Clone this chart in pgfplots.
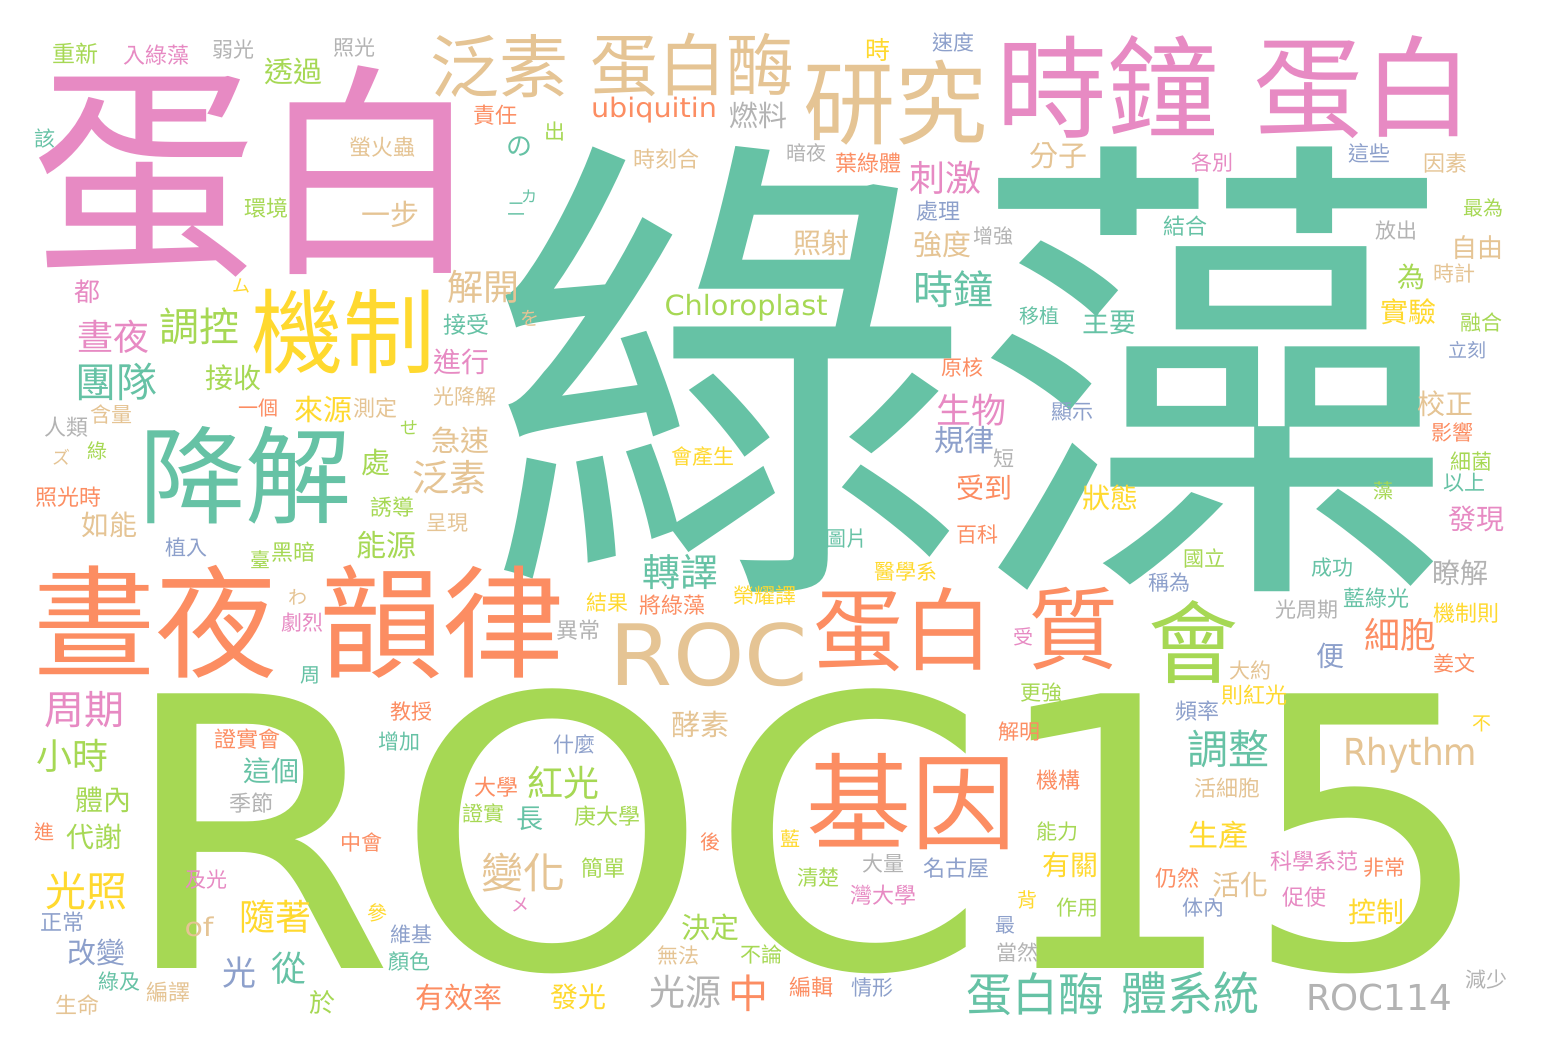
\documentclass[border=0pt]{standalone}
\usepackage{fontspec}
\usepackage{graphicx}
\usepackage{pgfplots}
\usepackage{pgfplotstable}
\pgfplotsset{compat=1.18}
\newfontfamily\cjk{Noto Sans CJK TC}
\newfontfamily\lat{DejaVu Sans}
\definecolor{cT}{HTML}{66C2A5}
\definecolor{cO}{HTML}{FC8D62}
\definecolor{cB}{HTML}{8DA0CB}
\definecolor{cP}{HTML}{E78AC3}
\definecolor{cG}{HTML}{A6D854}
\definecolor{cY}{HTML}{FFD92F}
\definecolor{cN}{HTML}{E5C494}
\definecolor{cR}{HTML}{B3B3B3}

% x, y in pixels (y from top), s = font size in pt, c = colour, w = word
\pgfplotstableread{
x y s c w
972 370 242 T 綠藻
258 172 113 P 蛋白
1107 87 55.5 P 時鐘
1363 87 55 P 蛋白
155 622 61 O 晝夜
442 622 61 O 韻律
245 475 53 T 降解
911 802 52.5 O 基因
903 630 45 O 蛋白
1073 629 45 O 質
1193 642 45 G 會
343 332 46 Y 機制
895 103 46 N 研究
499 66 34.5 N 泛素
692 65 34 N 蛋白酶
76 54 11.5 G 重新
156 55 11 P 入綠藻
233 50 10.5 R 弱光
354 48 10.5 R 照光
293 72 14.5 G 透過
495 115 11 O 責任
45 139 10.5 T 該
382 147 11 N 螢火蟲
390 214 14.5 N 一步
266 208 11 G 環境
87 292 13 P 都
241 286 9 Y ム
113 337 18 P 晝夜
199 326 20 G 調控
483 287 18 N 解開
466 325 11.5 T 接受
461 362 14 P 進行
519 147 13 T の
878 50 12.5 Y 時
953 42 10.5 B 速度
758 115 14.5 R 燃料
555 132 10.5 G 出
666 159 11 N 時刻合
806 153 10 R 暗夜
868 163 11 O 葉綠體
945 178 18 P 刺激
938 211 11 B 處理
821 243 14 N 照射
942 245 14.5 N 強度
993 236 10 R 增強
953 289 20 T 時鐘
530 318 9.5 N を
529 196 8 T カ
516 209 9 T 二
1058 156 14.5 N 分子
1212 162 10.5 P 各別
1369 153 10.5 B 這些
1445 163 11 N 因素
1483 208 10 G 最為
1185 226 11 T 結合
1396 231 10.5 R 放出
1477 248 13 N 自由
1411 277 14 G 為
1454 273 10.5 N 時計
1408 312 14 Y 實驗
1481 322 10.5 G 融合
1039 316 10 T 移植
1109 322 13.5 T 主要
1467 350 9.5 B 立刻
117 382 20.5 T 團隊
233 378 14 G 接收
258 408 10 O 一個
323 409 14.5 Y 來源
375 408 11 N 測定
465 397 10.5 N 光降解
111 414 10.5 N 含量
66 427 11 R 人類
409 428 9 G せ
460 440 14.5 N 急速
62 457 9 N ズ
97 451 10 G 綠
376 463 14.5 G 處
449 477 18.5 N 泛素
68 497 11 O 照光時
392 507 11 G 誘導
109 525 14 N 如能
447 523 10.5 N 呈現
186 547 10.5 B 植入
386 545 15 G 能源
293 552 11 G 黑暗
260 560 10 G 臺
298 597 9.5 N わ
302 623 10.5 P 劇烈
310 675 10 T 周
962 367 10.5 O 原核
971 410 17.5 P 生物
964 440 15 B 規律
1004 458 10.5 R 短
703 457 10.5 Y 會產生
984 488 14 O 受到
846 539 10.5 T 圖片
977 535 10.5 O 百科
680 572 19 T 轉譯
906 572 10.5 Y 醫學系
607 602 10.5 Y 結果
672 605 11 O 將綠藻
765 595 10.5 Y 榮耀譯
578 630 11 R 異常
1072 412 10.5 B 顯示
1445 404 14 N 校正
1452 432 10.5 O 影響
1471 462 10.5 G 細菌
1464 483 10.5 T 以上
1383 491 10 G 藻
1110 498 14 Y 狀態
1476 519 14 P 發現
1204 558 10.5 G 國立
1332 568 10.5 T 成功
1460 573 14 R 瞭解
1169 583 10.5 B 稱為
1307 610 10.5 R 光周期
1376 598 11 T 藍綠光
1466 613 11 Y 機制則
1400 635 18 O 細胞
1023 637 10 P 受
1330 656 14 B 便
1454 663 10.5 O 姜文
1250 670 10.5 N 大約
1041 693 10.5 G 更強
1254 695 11 Y 則紅光
84 710 20 P 周期
72 756 18 G 小時
104 800 14 G 體內
44 832 10 O 進
94 837 14 G 代謝
87 891 20.5 Y 光照
62 922 11 B 正常
97 953 14.5 B 改變
119 982 10.5 T 綠及
168 992 11 N 編譯
77 1005 11 N 生命
411 712 10.5 O 教授
247 739 11 O 證實會
399 742 10.5 T 增加
271 771 14 T 這個
251 803 11 R 季節
361 842 10.5 O 中會
206 880 10.5 P 及光
275 917 18 Y 隨著
377 913 10 Y 參
411 935 10.5 B 維基
409 962 10.5 T 顏色
239 973 17 B 光
289 968 17.5 T 從
322 1003 13 G 於
459 997 14.5 O 有效率
496 787 11 O 大學
483 813 10.5 G 證實
700 724 14.5 N 酵素
574 745 10.5 B 什麼
563 783 18 G 紅光
530 819 13.5 T 長
607 816 11 G 庚大學
710 842 10 O 後
523 873 21 N 變化
603 868 11 G 簡單
520 905 9 P メ
790 839 10 Y 藍
710 927 14.5 G 決定
678 955 10.5 N 無法
761 955 10.5 G 不論
685 992 18 R 光源
748 993 20 O 中
578 997 14 Y 發光
811 987 11 O 編輯
872 988 10.5 B 情形
883 864 10.5 R 大量
956 868 11 B 名古屋
818 878 10.5 G 清楚
883 895 11 P 灣大學
1005 925 10 B 最
1017 952 10.5 R 當然
1035 994 23 T 蛋白酶
1027 900 10 Y 背
1019 732 10.5 O 解明
1197 711 11 B 頻率
1228 749 20.5 T 調整
1058 780 11 O 機構
1227 788 11 N 活細胞
1057 832 10.5 G 能力
1218 835 15 Y 生產
1070 865 14 Y 有關
1177 878 11 O 仍然
1240 885 14 N 活化
1077 908 10.5 G 作用
1203 908 10.5 B 体內
1314 861 11 P 科學系范
1384 868 10.5 O 非常
1304 897 11 P 促使
1376 912 14 Y 控制
1190 993 23 T 體系統
1486 980 10.5 R 減少
1482 724 9.5 Y 不
}\cjkwords

% Latin words: x, y in pixels, W = width in pt, H = total height in pt
\pgfplotstableread{
x y W H c w
807 831 687.5 142.5 G ROC15
709 655 99 32 N ROC
654 110 63 13 O ubiquitin
746 308 81.5 13.5 G Chloroplast
1410 755 67 18 N Rhythm
1379 998 73 13.5 R ROC114
199 927 14.5 10 N of
}\latwords

\pgfplotstablegetrowsof{\cjkwords}
\pgfmathtruncatemacro\ncjk{\pgfplotsretval-1}
\pgfplotstablegetrowsof{\latwords}
\pgfmathtruncatemacro\nlat{\pgfplotsretval-1}

\begin{document}
\begin{tikzpicture}
\path[use as bounding box] (0,0) rectangle (774pt,526pt);
\fill[white] (0,0) rectangle (774pt,526pt);
\begin{axis}[at={(0,0)}, anchor=south west, scale only axis,
  width=774pt, height=526pt,
  xmin=0, xmax=1548, ymin=0, ymax=1052, y dir=reverse,
  axis lines=none, ticks=none, clip=false]
\pgfplotsforeachungrouped \i in {0,...,\nlat}{%
  \pgfplotstablegetelem{\i}{x}\of\latwords \let\wx\pgfplotsretval
  \pgfplotstablegetelem{\i}{y}\of\latwords \let\wy\pgfplotsretval
  \pgfplotstablegetelem{\i}{W}\of\latwords \let\wW\pgfplotsretval
  \pgfplotstablegetelem{\i}{H}\of\latwords \let\wH\pgfplotsretval
  \pgfplotstablegetelem{\i}{c}\of\latwords \let\wc\pgfplotsretval
  \pgfplotstablegetelem{\i}{w}\of\latwords \let\ww\pgfplotsretval
  \edef\temp{\noexpand\node[anchor=center, inner sep=0pt, text=c\wc]
    at (axis cs:\wx,\wy)
    {\noexpand\resizebox*{\wW pt}{\wH pt}{\noexpand\lat \ww}};}%
  \temp
}
\pgfplotsforeachungrouped \i in {0,...,\ncjk}{%
  \pgfplotstablegetelem{\i}{x}\of\cjkwords \let\wx\pgfplotsretval
  \pgfplotstablegetelem{\i}{y}\of\cjkwords \let\wy\pgfplotsretval
  \pgfplotstablegetelem{\i}{s}\of\cjkwords \let\ws\pgfplotsretval
  \pgfplotstablegetelem{\i}{c}\of\cjkwords \let\wc\pgfplotsretval
  \pgfplotstablegetelem{\i}{w}\of\cjkwords \let\ww\pgfplotsretval
  \edef\temp{\noexpand\node[anchor=center, inner sep=0pt, text=c\wc,
    font=\noexpand\cjk\noexpand\fontsize{\ws}{\ws}\noexpand\selectfont]
    at (axis cs:\wx,\wy) {\ww};}%
  \temp
}
\end{axis}
\end{tikzpicture}
\end{document}
